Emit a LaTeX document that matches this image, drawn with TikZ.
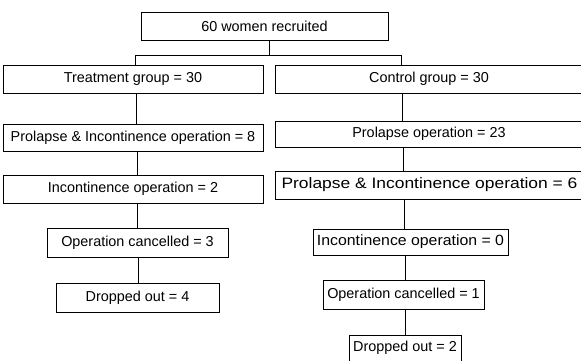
\documentclass[tikz,border=0pt]{standalone}
\usepackage{fontspec}
\setmainfont{Liberation Sans}
\begin{document}
\begin{tikzpicture}[x=1pt,y=-1pt,
  box/.style={draw=black,line width=0.9pt,inner sep=0pt,align=center,
    font=\fontsize{14.4}{16}\selectfont},
  conn/.style={draw=black,line width=0.9pt}]
\useasboundingbox (0,0) rectangle (581,361);
\clip (0,0) rectangle (581,361);
% top
\node[box,minimum width=247pt,minimum height=28pt] (top) at (264.5,26) {60 women recruited};
% left column
\node[box,minimum width=260pt,minimum height=28pt] (treat) at (133,79) {Treatment group = 30};
\node[box,minimum width=260pt,minimum height=27pt] (pi8) at (133,137.5) {Prolapse \& Incontinence operation = 8};
\node[box,minimum width=260pt,minimum height=28pt] (inc2) at (133,189) {Incontinence operation = 2};
\node[box,minimum width=181pt,minimum height=29pt] (opc3) at (137.5,243) {Operation cancelled = 3};
\node[box,minimum width=163pt,minimum height=29pt] (drop4) at (137.5,297.5) {Dropped out = 4};
% right column
\node[box,minimum width=308pt,minimum height=28pt] (ctrl) at (429,79) {Control group = 30};
\node[box,minimum width=308pt,minimum height=26pt] (p23) at (429,134) {Prolapse operation = 23};
\node[box,minimum width=308pt,minimum height=28pt] (pi6) at (429.5,185) {\scalebox{1.21}[1.05]{Prolapse \& Incontinence operation = 6}};
\node[box,minimum width=195pt,minimum height=26pt] (inc0) at (410.5,242) {\scalebox{1.1}[1.03]{Incontinence operation = 0}};
\node[box,minimum width=161pt,minimum height=29pt] (opc1) at (403.5,295) {Operation cancelled = 1};
\node[box,minimum width=112pt,minimum height=26pt] (drop2) at (405,348) {Dropped out = 2};
% connectors
\coordinate (split) at (269,55);
\draw[conn] (top.south -| split) -- (split);
\draw[conn] (135.5,55) -- (401,55);
\draw[conn] (135.5,55) -- (treat.north -| 135.5,0);
\draw[conn] (401,55) -- (ctrl.north -| 401,0);
\draw[conn] (treat.south -| 136,0) -- (pi8.north -| 136,0);
\draw[conn] (pi8.south -| 137,0) -- (inc2.north -| 137,0);
\draw[conn] (inc2.south -| 137.5,0) -- (opc3.north -| 137.5,0);
\draw[conn] (opc3.south -| 138,0) -- (drop4.north -| 138,0);
\draw[conn] (ctrl.south -| 402,0) -- (p23.north -| 402,0);
\draw[conn] (p23.south -| 403,0) -- (pi6.north -| 403,0);
\draw[conn] (pi6.south -| 404,0) -- (inc0.north -| 404,0);
\draw[conn] (inc0.south -| 405,0) -- (opc1.north -| 405,0);
\draw[conn] (opc1.south -| 405,0) -- (drop2.north -| 405,0);
\end{tikzpicture}
\end{document}
